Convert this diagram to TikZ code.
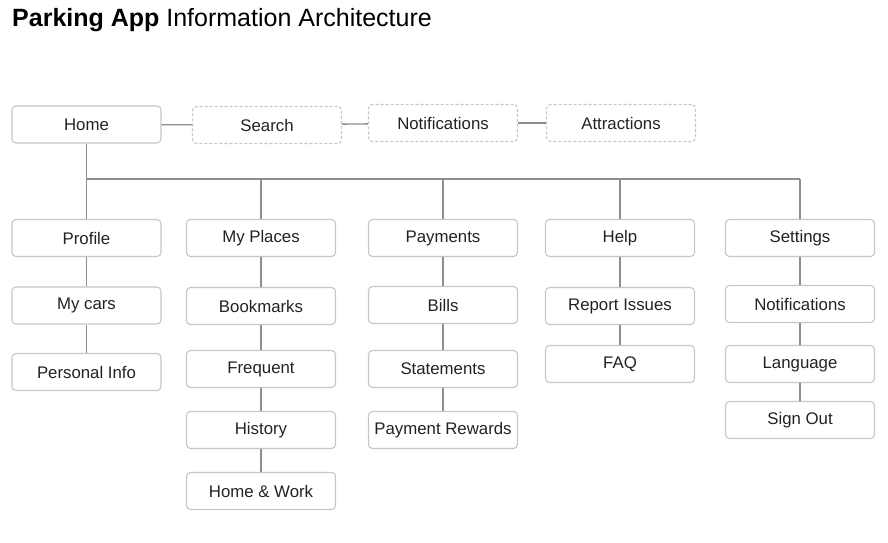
\documentclass[tikz,border=0pt]{standalone}
\usepackage{fontspec}
\setmainfont{Liberation Sans}
\usepackage{tikz}
\usetikzlibrary{positioning,calc}
\definecolor{boxline}{HTML}{C6C6C6}
\definecolor{wirecol}{HTML}{8E8E8E}
\definecolor{ink}{HTML}{222222}

\begin{document}
\begin{tikzpicture}[x=1pt,y=-1pt,
    item/.style={draw=boxline, line width=1.1pt, rounded corners=4pt,
        minimum width=149pt, minimum height=37pt, inner sep=0pt,
        text=ink, font=\fontsize{16.8}{19}\selectfont},
    extra/.style={item, dash pattern=on 3pt off 2pt},
    wire/.style={draw=wirecol, line width=1.3pt}]
    \useasboundingbox (0,0) rectangle (888,542);

    % Title
    \node[anchor=base west, inner sep=0pt, text=black,
        font=\fontsize{25}{29}\selectfont] (title) at (12,26)
        {\textbf{Parking App} Information Architecture};

    % Top level
    \node[item] (home) at (86.5,124.5) {Home};
    \node[extra] (search) at (267,125) {Search};
    \node[extra] (notif) at (443,123) {Notifications};
    \node[extra] (attr) at (621,123) {Attractions};
    \draw[wire] (home) -- (search);
    \draw[wire] (search) -- (notif);
    \draw[wire] (notif) -- (attr);

    % Sections and their pages
    \foreach \name/\x/\y/\txt in {
        profile/86.5/238/Profile, cars/86.5/305.5/My cars, info/86.5/372/Personal Info,
        places/261/238/My Places, bookmarks/261/306/Bookmarks, frequent/261/369/Frequent,
        history/261/430/History, homework/261/491/Home \& Work,
        payments/443/238/Payments, bills/443/305/Bills, statements/443/369/Statements,
        rewards/443/430/Payment Rewards,
        help/620/238/Help, issues/620/306/Report Issues, faq/620/364/FAQ,
        settings/800/238/Settings, snotif/800/304/Notifications, language/800/364/Language,
        signout/800/420/Sign Out}
        \node[item] (\name) at (\x,\y) {\txt};

    % Bus from Home to the sections
    \coordinate (bus) at (86.5,179);
    \draw[wire] (home.south) -- (bus) -- (bus -| settings.north);
    \foreach \sec in {profile,places,payments,help,settings}
        \draw[wire] (\sec.north) -- (\sec.north |- bus);

    % Links down each column
    \foreach \a/\b in {profile/cars, cars/info,
        places/bookmarks, bookmarks/frequent, frequent/history, history/homework,
        payments/bills, bills/statements, statements/rewards,
        help/issues, issues/faq,
        settings/snotif, snotif/language, language/signout}
        \draw[wire] (\a) -- (\b);
\end{tikzpicture}
\end{document}
